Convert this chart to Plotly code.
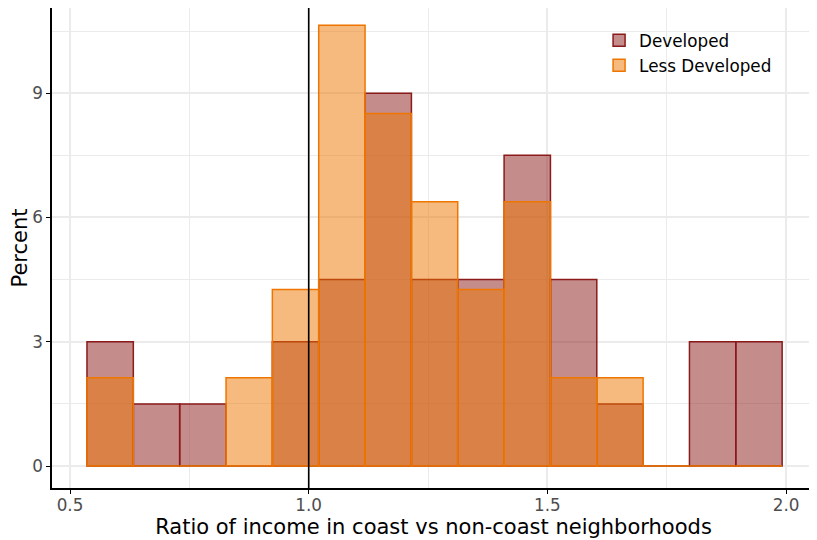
import plotly.graph_objects as go

bin_centers = [0.5841, 0.6812, 0.7783, 0.8754, 0.9724, 1.0695, 1.1666, 1.2636,
               1.3607, 1.4578, 1.5549, 1.6519, 1.7490, 1.8461, 1.9431]
bin_width = 0.0971
developed = [3.0, 1.5, 1.5, 0, 3.0, 4.5, 9.0, 4.5, 4.5, 7.5, 4.5, 1.5, 0, 3.0, 3.0]
less_developed = [2.13, 0, 0, 2.13, 4.26, 10.64, 8.51, 6.38, 4.26, 6.38, 2.13, 2.13, 0, 0, 0]
x_ticks = [0.5, 1.0, 1.5, 2.0]
y_ticks = [0, 3, 6, 9]

fig = go.Figure()
fig.add_trace(go.Bar(
    x=bin_centers, y=developed, width=bin_width, name="Developed",
    marker=dict(color="rgba(139,26,26,0.5)", line=dict(color="#8B1A1A", width=1.5)),
))
fig.add_trace(go.Bar(
    x=bin_centers, y=less_developed, width=bin_width, name="Less Developed",
    marker=dict(color="rgba(238,118,0,0.5)", line=dict(color="#EE7600", width=1.5)),
))

fig.add_shape(type="line", x0=1.0, x1=1.0, y0=0, y1=1, xref="x", yref="paper",
              line=dict(color="black", width=1.6), layer="above")

fig.update_layout(
    width=809, height=532,
    barmode="overlay",
    plot_bgcolor="white", paper_bgcolor="white",
    margin=dict(l=44, r=2, t=0, b=52),
    font=dict(family="DejaVu Sans", color="#4D4D4D"),
    legend=dict(x=0.717, y=0.969, xanchor="left", yanchor="top",
                font=dict(size=16.8, color="black"), bgcolor="rgba(0,0,0,0)",
                tracegroupgap=0, itemwidth=30),
    xaxis=dict(
        range=[0.4623, 2.0605], tickvals=x_ticks, ticktext=[f"{v:.1f}" for v in x_ticks],
        showline=True, linecolor="black", linewidth=1.5, ticks="outside",
        ticklen=4, tickcolor="black", tickfont=dict(size=16.8, color="#4D4D4D"),
        ticklabelstandoff=-3,
        showgrid=True, gridcolor="#EBEBEB", gridwidth=1.8, zeroline=False,
        minor=dict(tickvals=[0.75, 1.25, 1.75], showgrid=True, gridcolor="#EBEBEB", gridwidth=1.0),
        title=dict(text="Ratio of income in coast vs non-coast neighborhoods",
                   font=dict(size=21, color="black"), standoff=2),
        automargin=False,
    ),
    yaxis=dict(
        range=[-0.53, 11.055], tickvals=y_ticks,
        showline=True, linecolor="black", linewidth=1.5, ticks="outside",
        ticklen=4, tickcolor="black", tickfont=dict(size=16.8, color="#4D4D4D"),
        showgrid=True, gridcolor="#EBEBEB", gridwidth=1.8, zeroline=False,
        minor=dict(tickvals=[1.5, 4.5, 7.5, 10.5], showgrid=True, gridcolor="#EBEBEB", gridwidth=1.0),
        title=dict(text="Percent", font=dict(size=21, color="black"), standoff=7),
        automargin=False,
    ),
)

fig.write_html("out.html")
